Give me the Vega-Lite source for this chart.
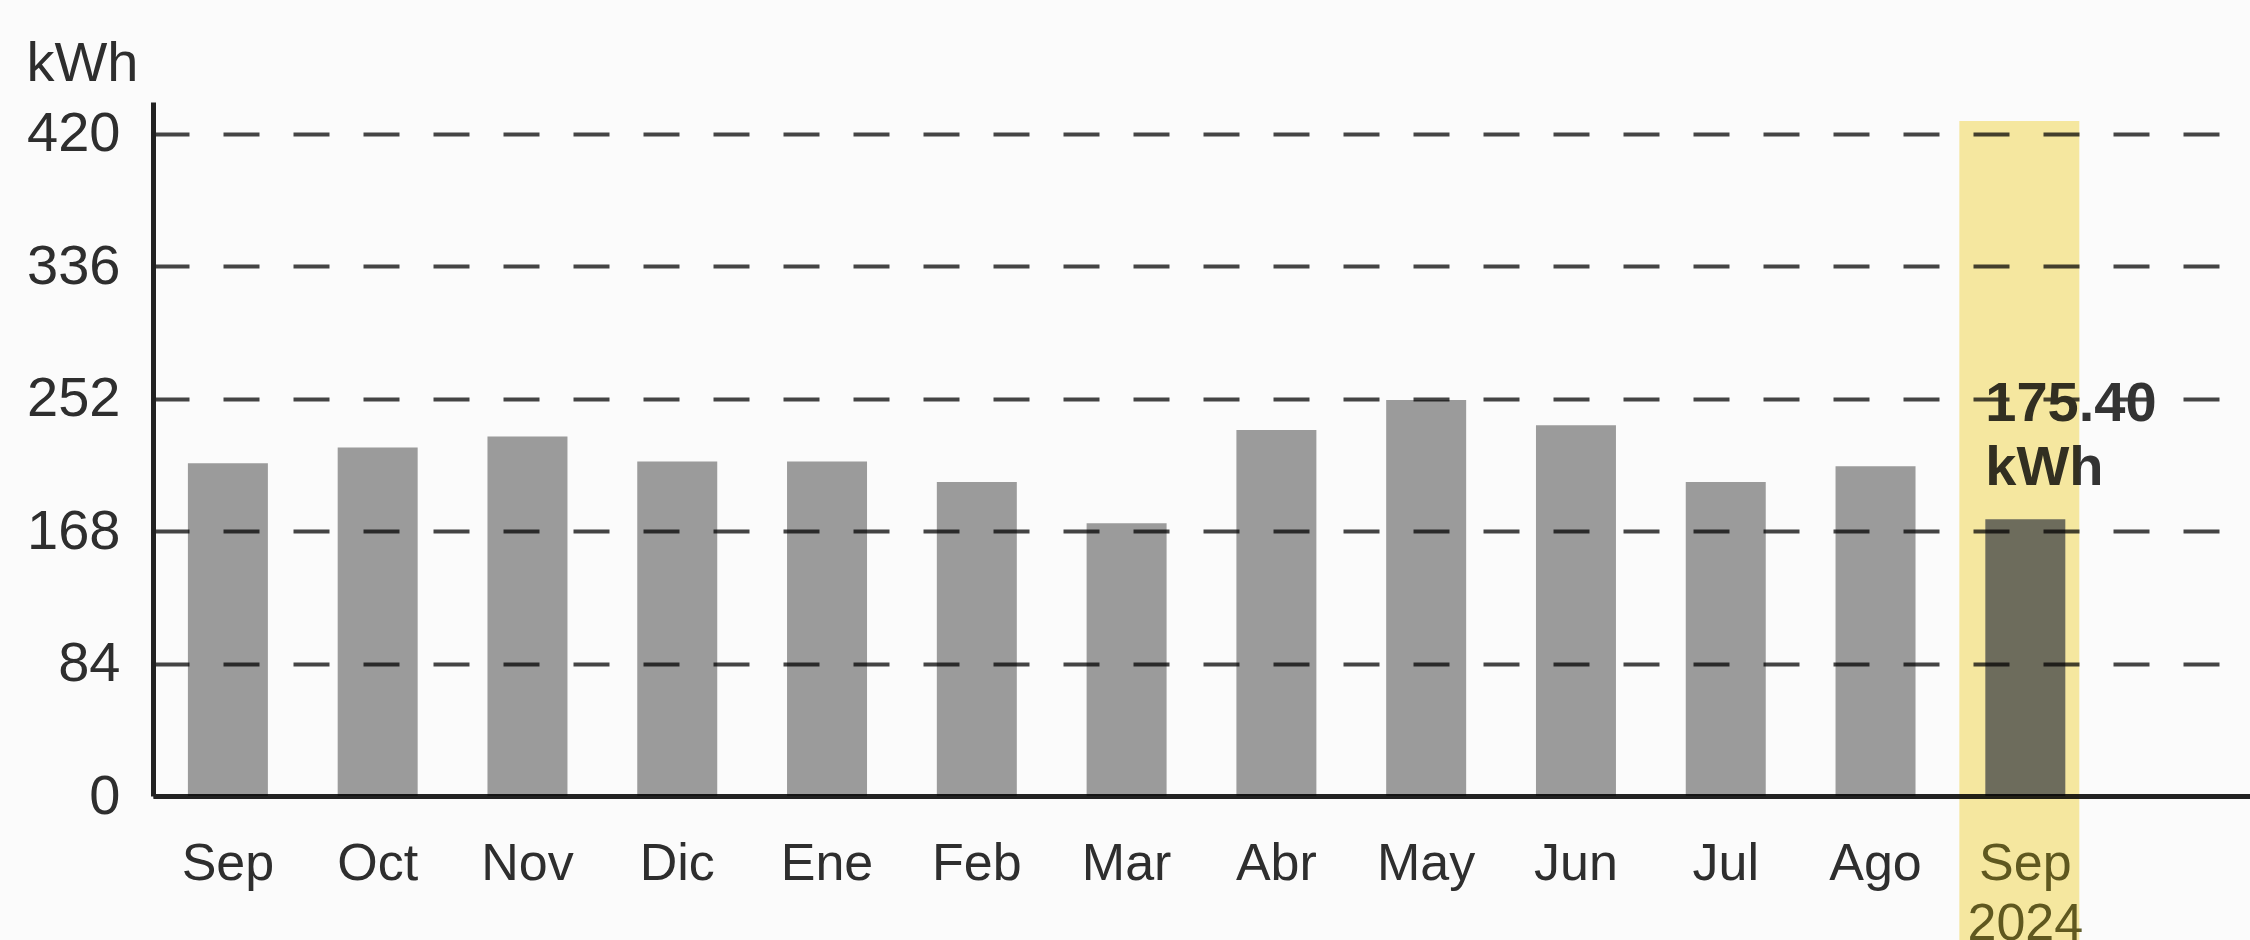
{
  "$schema": "https://vega.github.io/schema/vega-lite/v6.json",
  "width": 2097,
  "height": 694,
  "autosize": {"type": "none"},
  "padding": {"left": 153, "top": 102, "right": 0, "bottom": 144},
  "background": "#fbfbfb",
  "config": {"view": {"stroke": null}, "font": "Liberation Sans"},
  "data": {
    "values": [
      {"mes": "Sep", "kwh": 211, "tipo": "historico"},
      {"mes": "Oct", "kwh": 221, "tipo": "historico"},
      {"mes": "Nov", "kwh": 228, "tipo": "historico"},
      {"mes": "Dic", "kwh": 212, "tipo": "historico"},
      {"mes": "Ene", "kwh": 212, "tipo": "historico"},
      {"mes": "Feb", "kwh": 199, "tipo": "historico"},
      {"mes": "Mar", "kwh": 173, "tipo": "historico"},
      {"mes": "Abr", "kwh": 232, "tipo": "historico"},
      {"mes": "May", "kwh": 251, "tipo": "historico"},
      {"mes": "Jun", "kwh": 235, "tipo": "historico"},
      {"mes": "Jul", "kwh": 199, "tipo": "historico"},
      {"mes": "Ago", "kwh": 209, "tipo": "historico"},
      {"mes": "Sep 2024", "kwh": 175.4, "tipo": "actual", "etiqueta": "175.40 kWh"}
    ]
  },
  "encoding": {
    "x": {
      "field": "mes",
      "type": "nominal",
      "sort": null,
      "scale": {
        "domain": ["Sep", "Oct", "Nov", "Dic", "Ene", "Feb", "Mar", "Abr", "May", "Jun", "Jul", "Ago", "Sep 2024", " "],
        "paddingInner": 0.466,
        "paddingOuter": 0.233
      },
      "axis": {
        "title": null,
        "grid": false,
        "domain": true,
        "domainColor": "#222222",
        "domainWidth": 5,
        "ticks": false,
        "tickSize": 0,
        "labelAngle": 0,
        "labelFontSize": 52,
        "labelColor": {"condition": {"test": "datum.value == 'Sep 2024'", "value": "#615f30"}, "value": "#2e2e2e"},
        "labelPadding": 42,
        "labelOverlap": false,
        "labelExpr": "split(datum.label, ' ')",
        "labelLineHeight": 60
      }
    }
  },
  "layer": [
    {
      "mark": {"type": "bar", "blend": "multiply"},
      "encoding": {
        "y": {
          "field": "kwh",
          "type": "quantitative",
          "scale": {"domain": [0, 440], "nice": false, "zero": true},
          "axis": {
            "title": "kWh",
            "titleAngle": 0,
            "titleAlign": "left",
            "titleBaseline": "alphabetic",
            "titleX": -127,
            "titleY": -22,
            "titleFontSize": 56,
            "titleFontWeight": "normal",
            "titleColor": "#2e2e2e",
            "values": [0, 84, 168, 252, 336, 420],
            "grid": true,
            "gridDash": [36, 34],
            "gridColor": "#444444",
            "gridWidth": 4,
            "domainColor": "#222222",
            "domainWidth": 5,
            "ticks": false,
            "tickSize": 0,
            "labelFontSize": 56,
            "labelPadding": 33,
            "labelColor": "#2e2e2e"
          }
        },
        "color": {
          "field": "tipo",
          "type": "nominal",
          "scale": {"domain": ["historico", "actual"], "range": ["#9e9e9e", "#727793"]},
          "legend": null
        }
      }
    },
    {
      "transform": [{"filter": "datum.tipo == 'actual'"}],
      "mark": {
        "type": "text",
        "align": "left",
        "baseline": "bottom",
        "dy": -86,
        "fontSize": 56,
        "fontWeight": "bold",
        "color": "#333333",
        "lineBreak": " ",
        "lineHeight": 64
      },
      "encoding": {
        "x": {"field": "mes", "type": "nominal", "bandPosition": 0},
        "y": {"field": "kwh", "type": "quantitative"},
        "text": {"field": "etiqueta"}
      }
    },
    {
      "transform": [{"filter": "datum.tipo == 'actual'"}],
      "mark": {"type": "bar", "blend": "multiply", "color": "#f9eba2", "width": {"band": 1.5}, "xOffset": -6},
      "encoding": {
        "y": {"datum": 428, "type": "quantitative"},
        "y2": {"datum": -95}
      }
    }
  ]
}
